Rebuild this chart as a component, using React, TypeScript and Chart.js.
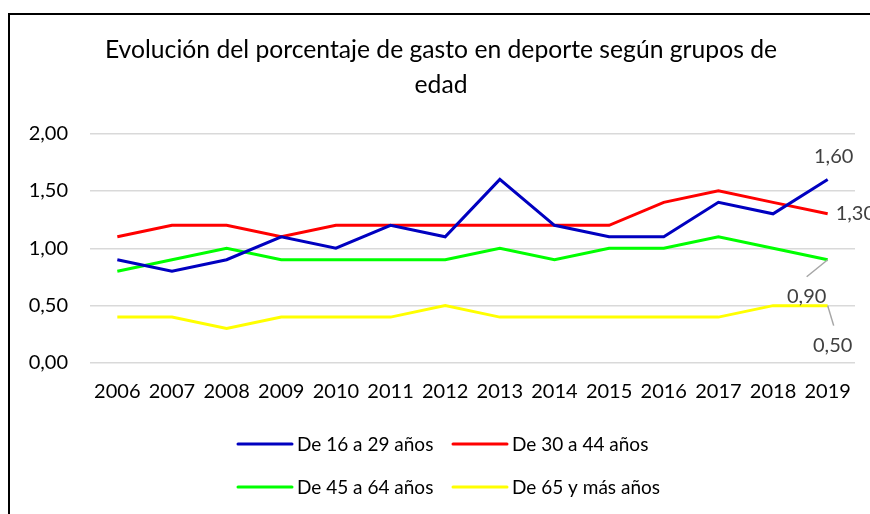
import React, { useEffect, useRef } from 'react';
import { Chart, registerables } from 'chart.js';

Chart.register(...registerables);

const years = ['2006', '2007', '2008', '2009', '2010', '2011', '2012', '2013', '2014', '2015', '2016', '2017', '2018', '2019'];
const serie16a29 = [0.9, 0.8, 0.9, 1.1, 1.0, 1.2, 1.1, 1.6, 1.2, 1.1, 1.1, 1.4, 1.3, 1.6];
const serie30a44 = [1.1, 1.2, 1.2, 1.1, 1.2, 1.2, 1.2, 1.2, 1.2, 1.2, 1.4, 1.5, 1.4, 1.3];
const serie45a64 = [0.8, 0.9, 1.0, 0.9, 0.9, 0.9, 0.9, 1.0, 0.9, 1.0, 1.0, 1.1, 1.0, 0.9];
const serie65mas = [0.4, 0.4, 0.3, 0.4, 0.4, 0.4, 0.5, 0.4, 0.4, 0.4, 0.4, 0.4, 0.5, 0.5];
const seriesLabels = ['De 16 a 29 años', 'De 30 a 44 años', 'De 45 a 64 años', 'De 65 y más años'];
const seriesColors = ['#0000C0', '#FF0000', '#00FF00', '#FFFF00'];
const titleLines = ['Evolución del porcentaje de gasto en deporte según grupos de', 'edad'];
const yMin = 0;
const yMax = 2;
const yStep = 0.5;

const FONT = 'Lato';

const fmt = (v: number) => v.toFixed(2).replace('.', ',');

// label placement for the last point of each series: [dx, dy, align, leaderDx, leaderDy]
const lastLabelPlacement: Array<[number, number, CanvasTextAlign, number | null, number | null]> = [
  [6, -23, 'center', null, null],
  [8, 0, 'left', null, null],
  [-21, 37, 'center', -21, 17],
  [5, 40, 'center', 6, 20],
];

const lastLabelsPlugin = {
  id: 'lastLabels',
  afterDatasetsDraw(chart: any) {
    const ctx = chart.ctx as CanvasRenderingContext2D;
    ctx.save();
    ctx.font = `20px ${FONT}`;
    ctx.textBaseline = 'middle';
    chart.data.datasets.forEach((ds: any, i: number) => {
      const meta = chart.getDatasetMeta(i);
      const n = ds.data.length - 1;
      const pt = meta.data[n];
      const [dx, dy, align, lx, ly] = lastLabelPlacement[i];
      if (lx !== null && ly !== null) {
        ctx.strokeStyle = '#A6A6A6';
        ctx.lineWidth = 1.5;
        ctx.beginPath();
        ctx.moveTo(pt.x, pt.y);
        ctx.lineTo(pt.x + lx, pt.y + ly);
        ctx.stroke();
      }
      ctx.fillStyle = '#404040';
      ctx.textAlign = align;
      ctx.fillText(fmt(ds.data[n]), pt.x + dx, pt.y + dy);
    });
    ctx.restore();
  },
};

const legendColX = [228, 443];
const legendRowY = [429, 472];

const customLegendPlugin = {
  id: 'customLegend',
  afterDraw(chart: any) {
    const ctx = chart.ctx as CanvasRenderingContext2D;
    ctx.save();
    ctx.font = `19px ${FONT}`;
    ctx.textBaseline = 'middle';
    ctx.textAlign = 'left';
    chart.data.datasets.forEach((ds: any, i: number) => {
      const x = legendColX[i % 2];
      const y = legendRowY[Math.floor(i / 2)];
      ctx.strokeStyle = ds.borderColor;
      ctx.lineWidth = 3;
      ctx.lineCap = 'round';
      ctx.beginPath();
      ctx.moveTo(x, y);
      ctx.lineTo(x + 54, y);
      ctx.stroke();
      ctx.fillStyle = '#000';
      ctx.fillText(ds.label, x + 59, y + 1);
    });
    ctx.restore();
  },
};

export default function App() {
  const ref = useRef<HTMLCanvasElement>(null);
  useEffect(() => {
    let chart: Chart | null = null;
    let cancelled = false;
    document.documentElement.style.overflow = 'hidden';
    const make = () => {
      if (cancelled || !ref.current) return;
      const seriesData = [serie16a29, serie30a44, serie45a64, serie65mas];
      chart = new Chart(ref.current, {
        type: 'line',
        data: {
          labels: years,
          datasets: seriesData.map((d, i) => ({
            label: seriesLabels[i],
            data: d,
            borderColor: seriesColors[i],
            backgroundColor: seriesColors[i],
            borderWidth: 3,
            pointRadius: 0,
            tension: 0,
            fill: false,
          })),
        },
        options: {
          responsive: false,
          animation: false,
          layout: { padding: { left: 17, right: 15, top: 0, bottom: 93 } },
          plugins: {
            legend: { display: false },
            tooltip: { enabled: false },
            title: {
              display: true,
              text: titleLines,
              color: '#000',
              font: { family: FONT, size: 24.7, weight: 'normal', lineHeight: 35 / 24.7 },
              padding: { top: 17.5, bottom: 31 },
            },
          },
          scales: {
            x: {
              offset: true,
              grid: { display: false, drawTicks: false },
              border: { display: false },
              ticks: { color: '#000', font: { family: FONT, size: 20 }, padding: 17, maxRotation: 0, autoSkip: false },
            },
            y: {
              min: yMin,
              max: yMax,
              grid: { color: '#D9D9D9', lineWidth: 1.5, drawTicks: false },
              border: { display: false },
              afterFit: (scale: any) => {
                scale.width = 63;
              },
              ticks: {
                stepSize: yStep,
                color: '#000',
                font: { family: FONT, size: 20 },
                padding: 22,
                callback: (v: any) => fmt(Number(v)),
              },
            },
          },
        },
        plugins: [lastLabelsPlugin, customLegendPlugin],
      });
    };
    document.fonts.load(`20px ${FONT}`).then(make, make);
    return () => {
      cancelled = true;
      if (chart) chart.destroy();
    };
  }, []);
  return (
    <div
      style={{
        position: 'fixed',
        left: 8,
        top: 13,
        width: 900,
        height: 540,
        borderLeft: '2px solid #000',
        borderTop: '2px solid #000',
        background: '#fff',
      }}
    >
      <canvas ref={ref} width={860} height={499} style={{ display: 'block', width: 860, height: 499 }} />
    </div>
  );
}
